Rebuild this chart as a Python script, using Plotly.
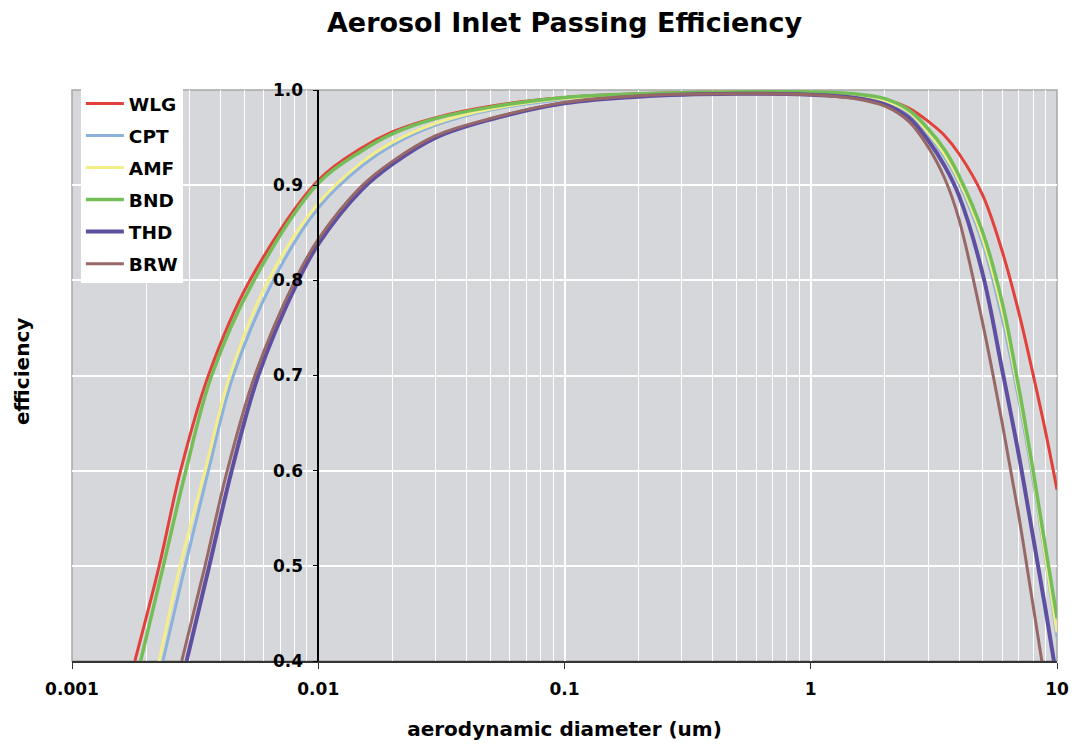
import plotly.graph_objects as go

# Aerosol inlet passing efficiency vs. aerodynamic diameter, per station
stations = ["WLG", "CPT", "AMF", "BND", "THD", "BRW"]
colors = ["#e2413b", "#8cb2dc", "#f3ee8a", "#74be58", "#5f4fa0", "#986866"]
widths = [3, 3, 3, 3.5, 4, 3]

wlg_d = [0.0018, 0.00226, 0.00276, 0.00358, 0.00528, 0.01, 0.015, 0.02, 0.03, 0.05, 0.1, 0.2, 0.5, 1, 1.5, 2, 2.5, 3, 3.5, 4, 5, 6, 7, 8, 9, 10]
wlg_e = [0.40, 0.50, 0.60, 0.70, 0.80, 0.905, 0.939, 0.956, 0.971, 0.983, 0.992, 0.996, 0.998, 0.997, 0.995, 0.990, 0.981, 0.967, 0.952, 0.933, 0.889, 0.830, 0.766, 0.701, 0.640, 0.58]

cpt_d = [0.00234, 0.00288, 0.00358, 0.00452, 0.00657, 0.01, 0.015, 0.02, 0.03, 0.05, 0.1, 0.2, 0.5, 1, 1.5, 2, 2.5, 3, 3.5, 4, 5, 6, 7, 8, 9, 10]
cpt_e = [0.40, 0.50, 0.60, 0.70, 0.80, 0.876, 0.920, 0.942, 0.963, 0.979, 0.990, 0.995, 0.997, 0.997, 0.994, 0.988, 0.975, 0.953, 0.929, 0.902, 0.838, 0.759, 0.674, 0.590, 0.505, 0.425]

amf_d = [0.00226, 0.00275, 0.00347, 0.00438, 0.00627, 0.01, 0.015, 0.02, 0.03, 0.05, 0.1, 0.2, 0.5, 1, 1.5, 2, 2.5, 3, 3.5, 4, 5, 6, 7, 8, 9, 10]
amf_e = [0.40, 0.50, 0.60, 0.70, 0.80, 0.881, 0.924, 0.945, 0.965, 0.980, 0.991, 0.995, 0.998, 0.997, 0.995, 0.989, 0.977, 0.955, 0.932, 0.905, 0.843, 0.767, 0.680, 0.595, 0.508, 0.43]

bnd_d = [0.0019, 0.00235, 0.0029, 0.00369, 0.00548, 0.01, 0.015, 0.02, 0.03, 0.05, 0.1, 0.2, 0.5, 1, 1.5, 2, 2.5, 3, 3.5, 4, 5, 6, 7, 8, 9, 10]
bnd_e = [0.40, 0.50, 0.60, 0.70, 0.80, 0.902, 0.936, 0.954, 0.970, 0.982, 0.992, 0.996, 0.998, 0.998, 0.996, 0.991, 0.979, 0.959, 0.937, 0.910, 0.850, 0.776, 0.687, 0.600, 0.518, 0.445]

thd_d = [0.00292, 0.00361, 0.00445, 0.00571, 0.0083, 0.01, 0.015, 0.02, 0.03, 0.05, 0.1, 0.2, 0.5, 1, 1.5, 2, 2.5, 3, 3.5, 4, 5, 6, 7, 8, 9, 10]
thd_e = [0.40, 0.50, 0.60, 0.70, 0.80, 0.838, 0.895, 0.922, 0.950, 0.969, 0.986, 0.993, 0.996, 0.995, 0.992, 0.985, 0.971, 0.947, 0.920, 0.889, 0.806, 0.705, 0.616, 0.530, 0.453, 0.38]

brw_d = [0.00279, 0.00347, 0.00427, 0.00553, 0.00805, 0.01, 0.015, 0.02, 0.03, 0.05, 0.1, 0.2, 0.5, 1, 1.5, 2, 2.5, 3, 3.5, 4, 5, 6, 7, 8, 9]
brw_e = [0.40, 0.50, 0.60, 0.70, 0.80, 0.843, 0.899, 0.925, 0.952, 0.970, 0.987, 0.994, 0.996, 0.995, 0.991, 0.983, 0.967, 0.940, 0.907, 0.864, 0.754, 0.649, 0.552, 0.458, 0.374]

diameters = [wlg_d, cpt_d, amf_d, bnd_d, thd_d, brw_d]
efficiencies = [wlg_e, cpt_e, amf_e, bnd_e, thd_e, brw_e]

x_ticks = [0.001, 0.01, 0.1, 1, 10]
x_ticktext = ["0.001", "0.01", "0.1", "1", "10"]
y_ticks = [0.4, 0.5, 0.6, 0.7, 0.8, 0.9, 1.0]
y_ticktext = ["0.4", "0.5", "0.6", "0.7", "0.8", "0.9", "1.0"]
minor_x = [m * 10.0 ** p for p in range(-3, 1) for m in range(2, 10)]

FONT = "DejaVu Sans"
TICKFONT = dict(family=FONT, size=17, color="black", weight="bold")

fig = go.Figure()
for name, d, e, c, w in zip(stations, diameters, efficiencies, colors, widths):
    fig.add_trace(go.Scatter(
        x=d, y=e, name=name, mode="lines", legendgroup=name,
        line=dict(color=c, width=w, shape="spline", smoothing=1.0),
    ))

fig.update_layout(
    width=1074, height=745,
    margin=dict(l=72, r=17, t=90, b=84),
    paper_bgcolor="white",
    plot_bgcolor="#d5d7da",
    font=dict(family=FONT, size=17, color="black"),
    title=dict(
        text="<b>Aerosol Inlet Passing Efficiency</b>",
        x=0.5, xref="paper", xanchor="center",
        y=1 - 23 / 745, yanchor="middle",
        font=dict(family=FONT, size=27, color="black"),
    ),
    showlegend=True,
    legend=dict(
        x=0.009, y=1.009, xanchor="left", yanchor="top",
        bgcolor="white", borderwidth=0,
        font=dict(family=FONT, size=18.5, color="black", weight="bold"),
        tracegroupgap=5, itemwidth=38,
    ),
    xaxis=dict(
        type="log", range=[-3, 1], automargin=False,
        tickvals=x_ticks, ticktext=x_ticktext, tickfont=TICKFONT,
        showgrid=True, gridcolor="white", gridwidth=1.5,
        minor=dict(tickvals=minor_x, showgrid=True, gridcolor="white", gridwidth=1.3, ticks=""),
        showline=True, linecolor="#333333", linewidth=2,
        ticks="outside", ticklen=6, tickcolor="#333333",
        ticklabelstandoff=6,
        zeroline=False,
        title=dict(text="<b>aerodynamic diameter (um)</b>", standoff=24,
                   font=dict(family=FONT, size=20)),
    ),
    yaxis=dict(
        range=[0.4, 1.0], automargin=False,
        tickvals=y_ticks, ticktext=y_ticktext, tickfont=TICKFONT,
        showgrid=True, gridcolor="white", gridwidth=1.8,
        anchor="free", position=0.25,
        showline=True, linecolor="black", linewidth=1.5,
        ticks="outside", ticklen=5, tickcolor="black",
        ticklabelstandoff=6,
        zeroline=False,
    ),
    shapes=[dict(
        type="rect", xref="paper", yref="paper", x0=0, x1=1, y0=0, y1=1,
        line=dict(color="#a8a8a8", width=1.5), layer="between",
    )],
    annotations=[dict(
        text="<b>efficiency</b>", xref="paper", yref="paper",
        x=(22 - 72) / 985, y=(661 - 372) / 571, textangle=-90,
        showarrow=False, xanchor="center", yanchor="middle",
        font=dict(family=FONT, size=20, color="black"),
    )],
)

fig.write_html("out.html")
